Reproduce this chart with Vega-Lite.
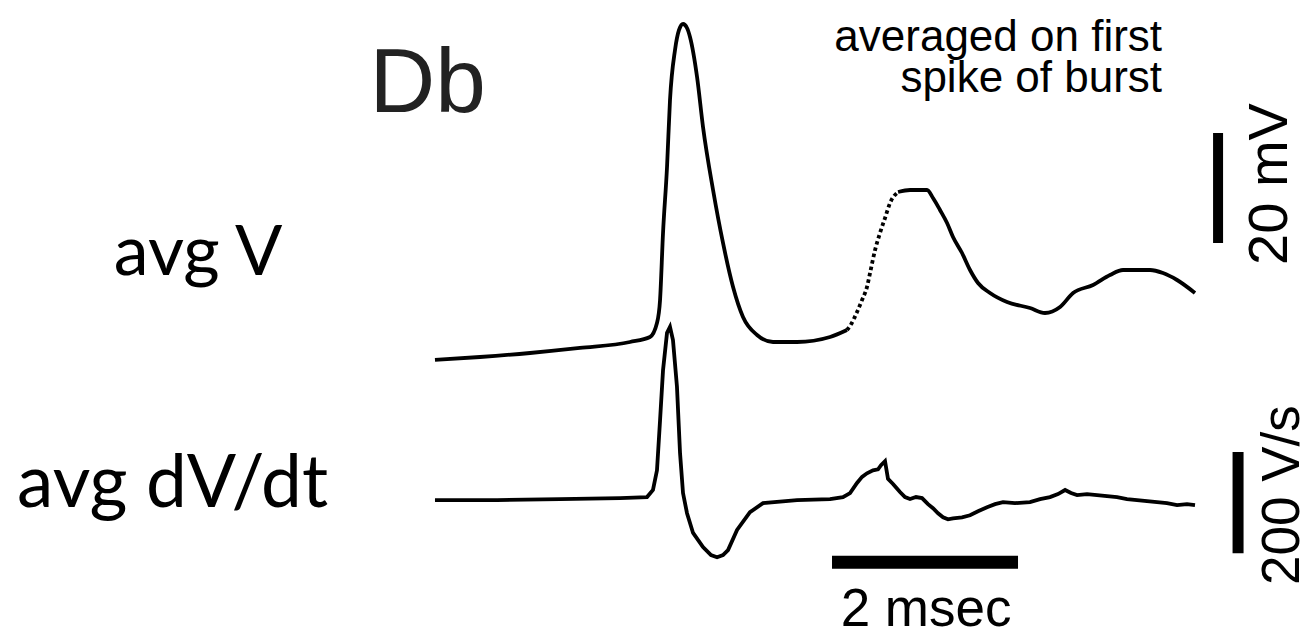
{
  "$schema": "https://vega.github.io/schema/vega-lite/v6.json",
  "width": 1312,
  "height": 637,
  "padding": 0,
  "autosize": {"type": "none"},
  "background": "white",
  "config": {"view": {"stroke": null}},
  "datasets": {
    "membrane": [
      {"t": -2.667, "mV": -60.45, "part": "pre"},
      {"t": -2.183, "mV": -59.91, "part": "pre"},
      {"t": -1.645, "mV": -59.18, "part": "pre"},
      {"t": -1.108, "mV": -58.27, "part": "pre"},
      {"t": -0.570, "mV": -57.18, "part": "pre"},
      {"t": -0.355, "mV": -56.27, "part": "pre"},
      {"t": -0.280, "mV": -53.73, "part": "pre"},
      {"t": -0.247, "mV": -49.55, "part": "pre"},
      {"t": -0.215, "mV": -37.36, "part": "pre"},
      {"t": -0.172, "mV": -25.36, "part": "pre"},
      {"t": -0.140, "mV": -13.18, "part": "pre"},
      {"t": -0.086, "mV": -4.09, "part": "pre"},
      {"t": -0.043, "mV": -0.45, "part": "pre"},
      {"t": 0.000, "mV": 0.64, "part": "pre"},
      {"t": 0.043, "mV": -0.09, "part": "pre"},
      {"t": 0.075, "mV": -1.73, "part": "pre"},
      {"t": 0.151, "mV": -9.0, "part": "pre"},
      {"t": 0.215, "mV": -18.09, "part": "pre"},
      {"t": 0.323, "mV": -29.55, "part": "pre"},
      {"t": 0.430, "mV": -39.18, "part": "pre"},
      {"t": 0.538, "mV": -47.18, "part": "pre"},
      {"t": 0.645, "mV": -52.64, "part": "pre"},
      {"t": 0.796, "mV": -55.91, "part": "pre"},
      {"t": 0.968, "mV": -57.18, "part": "pre"},
      {"t": 1.226, "mV": -57.18, "part": "pre"},
      {"t": 1.581, "mV": -56.27, "part": "pre"},
      {"t": 1.763, "mV": -55.0, "part": "pre"},
      {"t": 1.763, "mV": -55.0, "part": "rise"},
      {"t": 1.796, "mV": -54.27, "part": "rise"},
      {"t": 1.871, "mV": -51.73, "part": "rise"},
      {"t": 1.925, "mV": -49.55, "part": "rise"},
      {"t": 1.978, "mV": -47.18, "part": "rise"},
      {"t": 2.011, "mV": -44.64, "part": "rise"},
      {"t": 2.065, "mV": -40.45, "part": "rise"},
      {"t": 2.118, "mV": -37.36, "part": "rise"},
      {"t": 2.172, "mV": -34.64, "part": "rise"},
      {"t": 2.226, "mV": -31.91, "part": "rise"},
      {"t": 2.312, "mV": -29.91, "part": "rise"},
      {"t": 2.312, "mV": -29.91, "part": "post"},
      {"t": 2.441, "mV": -29.55, "part": "post"},
      {"t": 2.624, "mV": -29.55, "part": "post"},
      {"t": 2.688, "mV": -31.0, "part": "post"},
      {"t": 2.763, "mV": -33.18, "part": "post"},
      {"t": 2.839, "mV": -35.55, "part": "post"},
      {"t": 2.903, "mV": -38.09, "part": "post"},
      {"t": 3.000, "mV": -41.0, "part": "post"},
      {"t": 3.086, "mV": -44.09, "part": "post"},
      {"t": 3.172, "mV": -46.45, "part": "post"},
      {"t": 3.301, "mV": -48.27, "part": "post"},
      {"t": 3.484, "mV": -49.91, "part": "post"},
      {"t": 3.731, "mV": -51.0, "part": "post"},
      {"t": 3.892, "mV": -51.91, "part": "post"},
      {"t": 4.054, "mV": -50.82, "part": "post"},
      {"t": 4.194, "mV": -48.27, "part": "post"},
      {"t": 4.409, "mV": -46.82, "part": "post"},
      {"t": 4.591, "mV": -45.0, "part": "post"},
      {"t": 4.731, "mV": -44.09, "part": "post"},
      {"t": 5.022, "mV": -44.09, "part": "post"},
      {"t": 5.161, "mV": -44.64, "part": "post"},
      {"t": 5.312, "mV": -45.91, "part": "post"},
      {"t": 5.505, "mV": -48.27, "part": "post"}
    ],
    "derivative": [
      {"t": -2.667, "dvdt": 0},
      {"t": -2.000, "dvdt": 0},
      {"t": -1.323, "dvdt": 2},
      {"t": -0.677, "dvdt": 4},
      {"t": -0.387, "dvdt": 6},
      {"t": -0.323, "dvdt": 20},
      {"t": -0.280, "dvdt": 59},
      {"t": -0.247, "dvdt": 158},
      {"t": -0.215, "dvdt": 257},
      {"t": -0.172, "dvdt": 331},
      {"t": -0.140, "dvdt": 343},
      {"t": -0.108, "dvdt": 317},
      {"t": -0.065, "dvdt": 224},
      {"t": -0.032, "dvdt": 93},
      {"t": 0.000, "dvdt": 14},
      {"t": 0.043, "dvdt": -26},
      {"t": 0.108, "dvdt": -65},
      {"t": 0.215, "dvdt": -93},
      {"t": 0.301, "dvdt": -109},
      {"t": 0.366, "dvdt": -113},
      {"t": 0.430, "dvdt": -109},
      {"t": 0.484, "dvdt": -99},
      {"t": 0.581, "dvdt": -59},
      {"t": 0.720, "dvdt": -24},
      {"t": 0.860, "dvdt": -6},
      {"t": 1.226, "dvdt": 0},
      {"t": 1.581, "dvdt": 2},
      {"t": 1.720, "dvdt": 6},
      {"t": 1.796, "dvdt": 14},
      {"t": 1.871, "dvdt": 34},
      {"t": 1.925, "dvdt": 46},
      {"t": 1.978, "dvdt": 53},
      {"t": 2.043, "dvdt": 59},
      {"t": 2.097, "dvdt": 61},
      {"t": 2.129, "dvdt": 69},
      {"t": 2.172, "dvdt": 77},
      {"t": 2.204, "dvdt": 42},
      {"t": 2.258, "dvdt": 32},
      {"t": 2.333, "dvdt": 16},
      {"t": 2.387, "dvdt": 6},
      {"t": 2.441, "dvdt": 2},
      {"t": 2.505, "dvdt": 6},
      {"t": 2.570, "dvdt": 4},
      {"t": 2.634, "dvdt": -8},
      {"t": 2.688, "dvdt": -16},
      {"t": 2.742, "dvdt": -26},
      {"t": 2.796, "dvdt": -34},
      {"t": 2.849, "dvdt": -38},
      {"t": 2.903, "dvdt": -36},
      {"t": 3.000, "dvdt": -34},
      {"t": 3.086, "dvdt": -30},
      {"t": 3.172, "dvdt": -22},
      {"t": 3.269, "dvdt": -14},
      {"t": 3.355, "dvdt": -8},
      {"t": 3.441, "dvdt": -4},
      {"t": 3.570, "dvdt": -6},
      {"t": 3.731, "dvdt": -4},
      {"t": 3.839, "dvdt": 2},
      {"t": 3.946, "dvdt": 6},
      {"t": 4.032, "dvdt": 12},
      {"t": 4.108, "dvdt": 20},
      {"t": 4.172, "dvdt": 14},
      {"t": 4.237, "dvdt": 10},
      {"t": 4.344, "dvdt": 12},
      {"t": 4.452, "dvdt": 10},
      {"t": 4.559, "dvdt": 8},
      {"t": 4.667, "dvdt": 6},
      {"t": 4.774, "dvdt": 2},
      {"t": 4.882, "dvdt": 0},
      {"t": 4.989, "dvdt": -2},
      {"t": 5.097, "dvdt": -4},
      {"t": 5.204, "dvdt": -6},
      {"t": 5.312, "dvdt": -10},
      {"t": 5.419, "dvdt": -8},
      {"t": 5.505, "dvdt": -10}
    ],
    "single": [{}]
  },
  "resolve": {"scale": {"y": "independent"}},
  "layer": [
    {
      "data": {"name": "membrane"},
      "transform": [{"filter": "datum.part !== 'rise'"}],
      "mark": {"type": "line", "color": "black", "strokeWidth": 3.8, "interpolate": "monotone"},
      "encoding": {
        "x": {"field": "t", "type": "quantitative", "scale": {"domain": [-7.344, 6.763], "nice": false, "zero": false}, "axis": null},
        "y": {"field": "mV", "type": "quantitative", "scale": {"domain": [-110.82, 5], "nice": false, "zero": false}, "axis": null},
        "detail": {"field": "part"}
      }
    },
    {
      "data": {"name": "membrane"},
      "transform": [{"filter": "datum.part === 'rise'"}],
      "mark": {"type": "line", "color": "black", "strokeWidth": 3.8, "strokeDash": [3.5, 3], "interpolate": "monotone"},
      "encoding": {
        "x": {"field": "t", "type": "quantitative", "scale": {"domain": [-7.344, 6.763], "nice": false, "zero": false}, "axis": null},
        "y": {"field": "mV", "type": "quantitative", "scale": {"domain": [-110.82, 5], "nice": false, "zero": false}, "axis": null}
      }
    },
    {
      "data": {"name": "derivative"},
      "mark": {"type": "line", "color": "black", "strokeWidth": 3.8},
      "encoding": {
        "x": {"field": "t", "type": "quantitative", "scale": {"domain": [-7.344, 6.763], "nice": false, "zero": false}, "axis": null},
        "y": {"field": "dvdt", "type": "quantitative", "scale": {"domain": [-271, 990], "nice": false, "zero": false}, "axis": null}
      }
    },
    {
      "data": {"name": "single"},
      "mark": {"type": "rule", "color": "black", "strokeWidth": 10, "strokeCap": "butt"},
      "encoding": {
        "x": {"datum": 5.753, "type": "quantitative", "scale": {"domain": [-7.344, 6.763], "nice": false, "zero": false}, "axis": null},
        "y": {"datum": -39.18, "type": "quantitative", "scale": {"domain": [-110.82, 5], "nice": false, "zero": false}, "axis": null},
        "y2": {"datum": -19.18}
      }
    },
    {
      "data": {"name": "single"},
      "mark": {"type": "rule", "color": "black", "strokeWidth": 11, "strokeCap": "butt"},
      "encoding": {
        "x": {"datum": 5.968, "type": "quantitative", "scale": {"domain": [-7.344, 6.763], "nice": false, "zero": false}, "axis": null},
        "y": {"datum": -105, "type": "quantitative", "scale": {"domain": [-271, 990], "nice": false, "zero": false}, "axis": null},
        "y2": {"datum": 95}
      }
    },
    {
      "data": {"name": "single"},
      "mark": {"type": "rule", "color": "black", "strokeWidth": 13, "strokeCap": "butt"},
      "encoding": {
        "x": {"datum": 1.602, "type": "quantitative", "scale": {"domain": [-7.344, 6.763], "nice": false, "zero": false}, "axis": null},
        "x2": {"datum": 3.602},
        "y": {"datum": -122.8, "type": "quantitative", "scale": {"domain": [-271, 990], "nice": false, "zero": false}, "axis": null}
      }
    },
    {
      "data": {"name": "single"},
      "mark": {"type": "text", "text": "Db", "font": "Liberation Sans", "fontSize": 91, "color": "#222", "align": "left", "baseline": "alphabetic"},
      "encoding": {
        "x": {"datum": -3.37, "type": "quantitative", "scale": {"domain": [-7.344, 6.763], "nice": false, "zero": false}, "axis": null},
        "y": {"datum": -15.36, "type": "quantitative", "scale": {"domain": [-110.82, 5], "nice": false, "zero": false}, "axis": null}
      }
    },
    {
      "data": {"name": "single"},
      "mark": {"type": "text", "text": ["averaged on first", "spike of burst"], "font": "Liberation Sans", "fontSize": 44, "lineHeight": 41, "color": "black", "align": "right", "baseline": "alphabetic"},
      "encoding": {
        "x": {"datum": 5.151, "type": "quantitative", "scale": {"domain": [-7.344, 6.763], "nice": false, "zero": false}, "axis": null},
        "y": {"datum": -4.3, "type": "quantitative", "scale": {"domain": [-110.82, 5], "nice": false, "zero": false}, "axis": null}
      }
    },
    {
      "data": {"name": "single"},
      "mark": {"type": "text", "text": "avg V", "font": "Lato", "fontSize": 70, "color": "black", "align": "left", "baseline": "alphabetic"},
      "encoding": {
        "x": {"datum": -6.12, "type": "quantitative", "scale": {"domain": [-7.344, 6.763], "nice": false, "zero": false}, "axis": null},
        "y": {"datum": -45.0, "type": "quantitative", "scale": {"domain": [-110.82, 5], "nice": false, "zero": false}, "axis": null}
      }
    },
    {
      "data": {"name": "single"},
      "mark": {"type": "text", "text": "20 mV", "font": "Liberation Sans", "fontSize": 56, "color": "black", "align": "center", "baseline": "alphabetic", "angle": 270},
      "encoding": {
        "x": {"datum": 6.495, "type": "quantitative", "scale": {"domain": [-7.344, 6.763], "nice": false, "zero": false}, "axis": null},
        "y": {"datum": -28.45, "type": "quantitative", "scale": {"domain": [-110.82, 5], "nice": false, "zero": false}, "axis": null}
      }
    },
    {
      "data": {"name": "single"},
      "mark": {"type": "text", "text": "avg dV/dt", "font": "Lato", "fontSize": 73, "color": "black", "align": "left", "baseline": "alphabetic"},
      "encoding": {
        "x": {"datum": -7.16, "type": "quantitative", "scale": {"domain": [-7.344, 6.763], "nice": false, "zero": false}, "axis": null},
        "y": {"datum": -13.9, "type": "quantitative", "scale": {"domain": [-271, 990], "nice": false, "zero": false}, "axis": null}
      }
    },
    {
      "data": {"name": "single"},
      "mark": {"type": "text", "text": "2 msec", "font": "Liberation Sans", "fontSize": 53, "color": "black", "align": "center", "baseline": "alphabetic"},
      "encoding": {
        "x": {"datum": 2.613, "type": "quantitative", "scale": {"domain": [-7.344, 6.763], "nice": false, "zero": false}, "axis": null},
        "y": {"datum": -249.5, "type": "quantitative", "scale": {"domain": [-271, 990], "nice": false, "zero": false}, "axis": null}
      }
    },
    {
      "data": {"name": "single"},
      "mark": {"type": "text", "text": "200 V/s", "font": "Liberation Sans", "fontSize": 53, "color": "black", "align": "center", "baseline": "alphabetic", "angle": 270},
      "encoding": {
        "x": {"datum": 6.625, "type": "quantitative", "scale": {"domain": [-7.344, 6.763], "nice": false, "zero": false}, "axis": null},
        "y": {"datum": 9.9, "type": "quantitative", "scale": {"domain": [-271, 990], "nice": false, "zero": false}, "axis": null}
      }
    }
  ]
}
